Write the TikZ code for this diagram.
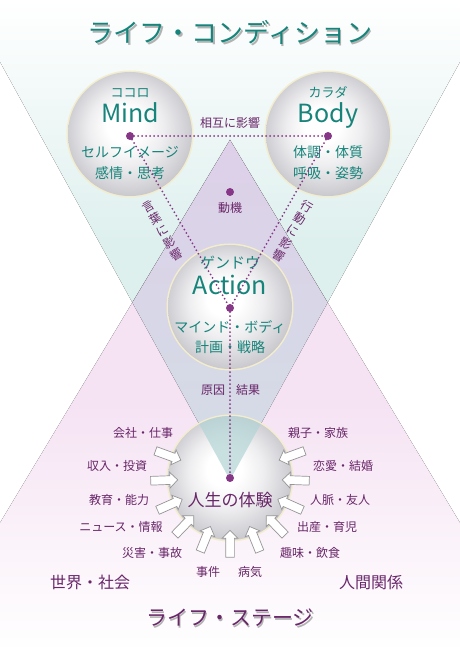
\documentclass[tikz,border=0pt]{standalone}
\usepackage{fontspec}
\setmainfont{Noto Sans CJK JP}
\usetikzlibrary{calc,shapes.arrows}

\definecolor{tealtxt}{RGB}{22,132,122}
\definecolor{purptxt}{RGB}{105,38,105}
\definecolor{dotcol}{RGB}{135,55,135}
\definecolor{tealbg}{RGB}{222,240,238}
\definecolor{pinkbg}{RGB}{245,226,243}
\definecolor{lavtop}{RGB}{222,208,233}
\definecolor{lavbot}{RGB}{210,221,229}
\definecolor{wedgecol}{RGB}{178,212,212}
\definecolor{ballmid}{RGB}{238,238,240}
\definecolor{ballgrey}{RGB}{218,218,222}
\definecolor{ballrim}{RGB}{196,196,202}
\definecolor{glowcol}{RGB}{243,237,205}
\definecolor{arrowline}{RGB}{150,150,150}

\pgfdeclareradialshading{ballshade}{\pgfpoint{-3bp}{4.5bp}}{color(0bp)=(white); color(7bp)=(white); color(15bp)=(ballmid); color(21bp)=(ballgrey); color(27bp)=(ballrim); color(32bp)=(ballrim)}

\tikzset{
  ball/.style={circle, minimum size=124pt, inner sep=0pt, shading=ballshade,
    preaction={draw=glowcol, line width=3pt}},
  dot/.style={circle, fill=dotcol, inner sep=0pt, minimum size=8pt},
  link/.style={draw=dotcol, line width=2pt, line cap=round, dash pattern=on 0pt off 4pt},
  txt/.style={inner sep=0pt, text depth=0pt},
  ttl/.style={txt, text height=19.8pt, text=tealtxt, font=\fontsize{26}{30}\selectfont},
  stagettl/.style={txt, text height=16pt, text=purptxt, font=\fontsize{21}{25}\selectfont},
  head/.style={txt, text height=19pt, text=tealtxt, font=\fontsize{25}{28}\selectfont},
  kana/.style={txt, text height=9.9pt, text=tealtxt, font=\fontsize{13}{15}\selectfont},
  sub/.style={txt, text height=10.6pt, text=tealtxt, font=\fontsize{14}{16}\selectfont},
  lbl/.style={txt, text height=9.1pt, text=purptxt, font=\fontsize{12}{14}\selectfont},
  biglbl/.style={txt, text height=12.2pt, text=purptxt, font=\fontsize{16}{18}\selectfont},
  vlbl/.style={text=purptxt, font=\fontsize{12}{14}\selectfont, align=center, inner sep=0pt},
  inarrow/.style={single arrow, draw=arrowline, fill=white, line width=0.7pt,
    minimum height=27pt, minimum width=15pt, inner sep=4pt, single arrow head extend=3.5pt},
}

\begin{document}
\begin{tikzpicture}[x=1pt, y=1pt]
  \clip (0,0) rectangle (460,651);
  \fill[white] (0,0) rectangle (460,651);

  % Background triangles
  \fill[top color=white, bottom color=tealbg, middle color=tealbg] (-34,651) -- (494,651) -- (230,171) -- cycle;
  \fill[top color=pinkbg, bottom color=white, middle color=pinkbg] (230,511) -- (537,0) -- (-77,0) -- cycle;
  \fill[top color=lavtop, bottom color=lavbot] (230,511) -- (132.4,348.4) -- (230,171) -- (327.6,348.4) -- cycle;

  % Circles
  \node[ball] (mind) at (130,517) {};
  \node[ball] (body) at (328,517) {};
  \node[ball] (action) at (230,344) {};
  \node[ball] (life) at (230,173) {};

  % Teal wedge inside the lower circle
  \begin{scope}
    \clip (life) circle (62pt);
    \fill[wedgecol, fill opacity=0.7] (-34,651) -- (494,651) -- (230,171) -- cycle;
  \end{scope}

  % Titles
  \node[ttl, text=black!30] at (231.5,616.5) {ライフ・コンディション};
  \node[ttl] (condTitle) at (230,618) {ライフ・コンディション};
  \node[stagettl, text=black!30] at (231.5,31.5) {ライフ・ステージ};
  \node[stagettl] (stageTitle) at (230,33) {ライフ・ステージ};

  % Mind and Body
  \node[kana] (mindKana) at (130,558) {ココロ};
  \node[head] (mindHead) at (130,538) {Mind};
  \node[sub] (mindSubA) at (130,499) {セルフイメージ};
  \node[sub] (mindSubB) at (130,478) {感情・思考};
  \node[kana] (bodyKana) at (328,558) {カラダ};
  \node[head] (bodyHead) at (328,538) {Body};
  \node[sub] (bodySubA) at (328,499) {体調・体質};
  \node[sub] (bodySubB) at (328,478) {呼吸・姿勢};

  % Action
  \node[kana, text height=11.4pt, font=\fontsize{15}{17}\selectfont] (actionKana) at (230,388) {ゲンドウ};
  \node[head] (actionHead) at (230,366) {Action};
  \node[sub] (actionSubA) at (230,324) {マインド・ボディ};
  \node[sub] (actionSubB) at (230,304) {計画・戦略};

  % Dots and links
  \node[dot] (mindDot) at (130,515) {};
  \node[dot] (bodyDot) at (328,515) {};
  \node[dot] (actionDot) at (230,343) {};
  \node[dot] (lifeDot) at (230,173) {};
  \node[dot] (motiveDot) at (230,459) {};
  \draw[link] (mindDot) -- (bodyDot);
  \draw[link] (mindDot) -- (actionDot);
  \draw[link] (bodyDot) -- (actionDot);
  \draw[link] (actionDot) -- (lifeDot);

  \node[lbl] (mutualLbl) at (230,528) {相互に影響};
  \node[lbl] (motiveLbl) at (230,443) {動機};
  \node[vlbl, rotate=30] (wordsLbl) at (163,420) {言\\葉\\に\\影\\響};
  \node[vlbl, rotate=-30] (deedsLbl) at (293,420) {行\\動\\に\\影\\響};
  \node[lbl] (causeLbl) at (213,261) {原因};
  \node[lbl] (effectLbl) at (248,261) {結果};

  % Life experience
  \node[txt, text height=12.9pt, text=purptxt, font=\fontsize{17}{20}\selectfont] (lifeLbl) at (230,151) {人生の体験};
  \foreach \a in {160,182,...,380}
    \node[inarrow, rotate=\a+180] (arr\a) at ($(life)+(\a:68)$) {};

  \node[lbl] (workLbl) at (143,218) {会社・仕事};
  \node[lbl] (incomeLbl) at (117,185) {収入・投資};
  \node[lbl] (eduLbl) at (119,151) {教育・能力};
  \node[lbl] (newsLbl) at (121,124) {ニュース・情報};
  \node[lbl] (disasterLbl) at (152,98) {災害・事故};
  \node[lbl] (incidentLbl) at (208,79) {事件};
  \node[lbl] (illnessLbl) at (250,79) {病気};
  \node[lbl] (familyLbl) at (318,218) {親子・家族};
  \node[lbl] (loveLbl) at (343,185) {恋愛・結婚};
  \node[lbl] (friendLbl) at (340,151) {人脈・友人};
  \node[lbl] (birthLbl) at (327,124) {出産・育児};
  \node[lbl] (hobbyLbl) at (310,98) {趣味・飲食};
  \node[biglbl] (worldLbl) at (90,69) {世界・社会};
  \node[biglbl] (peopleLbl) at (371,69) {人間関係};
\end{tikzpicture}
\end{document}
